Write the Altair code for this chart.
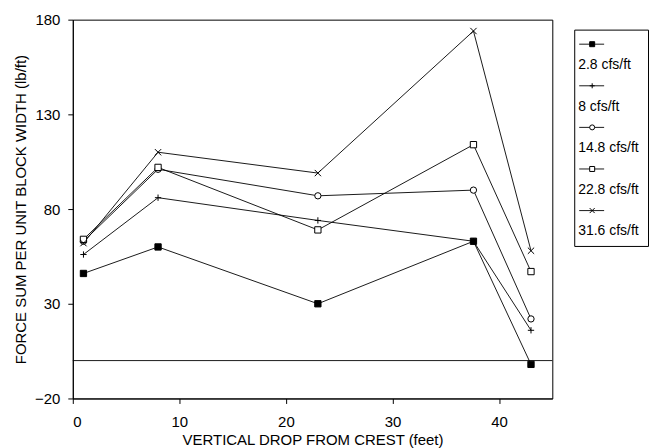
import altair as alt
import pandas as pd

# ---- data ----
series = ["2.8 cfs/ft", "8 cfs/ft", "14.8 cfs/ft", "22.8 cfs/ft", "31.6 cfs/ft"]
drop_ft = [1, 8, 23, 37.6, 43]
force_2_8 = [46, 60, 30, 63, -2]
force_8 = [56, 86, 74, 63, 16]
force_14_8 = [63, 101, 87, 90, 22]
force_22_8 = [64, 102, 69, 114, 47]
force_31_6 = [62, 110, 99, 174, 58]
y_ticks = [-20, 30, 80, 130, 180]
x_ticks = [0, 10, 20, 30, 40]

all_vals = [force_2_8, force_8, force_14_8, force_22_8, force_31_6]
rows = []
for s, vals in zip(series, all_vals):
    for x, v in zip(drop_ft, vals):
        rows.append({"series": s, "drop": x, "force": v})
df = pd.DataFrame(rows)

FONT = "Liberation Sans"
shapes = ["square", "M0,-1L0,1M-1,0L1,0", "circle", "square", "M-1,-1L1,1M-1,1L1,-1"]
fills = ["black", "white", "white", "white", "white"]

xs = alt.X("drop:Q", scale=alt.Scale(domain=[0, 45], nice=False),
           axis=alt.Axis(values=x_ticks, title="VERTICAL DROP FROM CREST (feet)",
                         grid=False, tickSize=5, labelPadding=11, titlePadding=3))
ys = alt.Y("force:Q", scale=alt.Scale(domain=[-20, 180], nice=False),
           axis=alt.Axis(values=y_ticks, title="FORCE SUM PER UNIT BLOCK WIDTH (lb/ft)",
                         grid=False, tickSize=5, labelPadding=8, titlePadding=6))

base = alt.Chart(df)
lines = base.mark_line(color="black", strokeWidth=0.9).encode(
    x=xs, y=ys, detail="series:N", order="drop:Q")
points = base.mark_point(size=40, stroke="black", strokeWidth=1, opacity=1).encode(
    x="drop:Q", y="force:Q",
    shape=alt.Shape("series:N", scale=alt.Scale(domain=series, range=shapes), legend=None),
    fill=alt.Fill("series:N", scale=alt.Scale(domain=series, range=fills), legend=None),
)
zero = alt.Chart(pd.DataFrame({"z": [0]})).mark_rule(color="black", strokeWidth=0.9).encode(y="z:Q")

main = alt.layer(lines, zero, points).properties(width=481, height=380)

# ---- custom legend (symbol above label) ----
lrows = []
for i, s in enumerate(series):
    lrows.append({"series": s, "row": 2 * i, "kind": "sym", "label": ""})
    lrows.append({"series": s, "row": 2 * i + 1, "kind": "lab", "label": s})
ldf = pd.DataFrame(lrows)
ly = alt.Y("row:O", scale=alt.Scale(type="point", padding=0.7), axis=None)
lbase = alt.Chart(ldf)
lrule = lbase.transform_filter(alt.datum.kind == "sym").mark_rule(color="black", strokeWidth=0.9).encode(
    x=alt.value(5), x2=alt.value(30), y=ly)
lpt = lbase.transform_filter(alt.datum.kind == "sym").mark_point(size=25, stroke="black", strokeWidth=1, opacity=1).encode(
    x=alt.value(18), y=ly,
    shape=alt.Shape("series:N", scale=alt.Scale(domain=series, range=shapes), legend=None),
    fill=alt.Fill("series:N", scale=alt.Scale(domain=series, range=fills), legend=None))
ltext = lbase.transform_filter(alt.datum.kind == "lab").mark_text(
    align="left", baseline="middle", font=FONT, fontSize=14, color="black").encode(
    x=alt.value(4), y=ly, text="label:N")
legend = alt.layer(lrule, lpt, ltext).resolve_scale(shape="independent", fill="independent").properties(
    width=74, height=217)

spacer = alt.Chart(pd.DataFrame({"a": [0]})).mark_point(opacity=0).encode(
    x=alt.value(0), y=alt.value(0)).properties(
    width=74, height=1, view=alt.ViewBackground(strokeOpacity=0))

right = alt.vconcat(spacer, legend, spacing=6)

chart = alt.hconcat(main, right, spacing=18).resolve_scale(
    y="independent", shape="independent", fill="independent"
).properties(
    padding={"left": 5, "top": 3, "right": 0, "bottom": 0}, background="white"
).configure_view(
    stroke="black", strokeWidth=1
).configure_axis(
    domainColor="black", tickColor="black", labelColor="black", titleColor="black",
    labelFont=FONT, titleFont=FONT, labelFontSize=15, titleFontSize=15,
    titleFontWeight="normal", domainWidth=1
)

chart.save("out.html", embed_options={"renderer": "svg", "actions": False})
